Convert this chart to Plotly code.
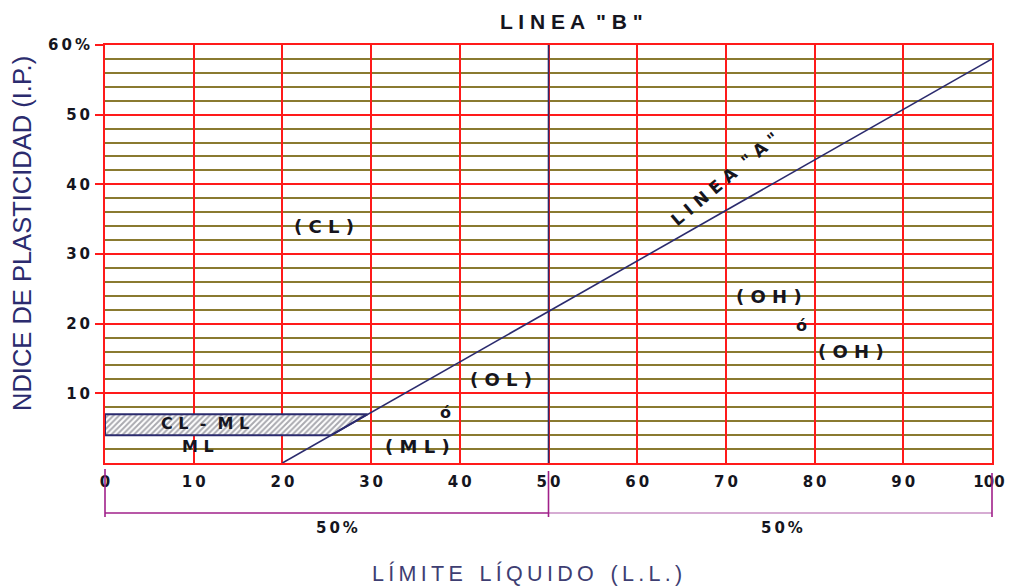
import plotly.graph_objects as go

# ---- data ----
x_ticks = [0, 10, 20, 30, 40, 50, 60, 70, 80, 90, 100]
x_ticktext = ["0", "1\u20090", "2\u20090", "3\u20090", "4\u20090", "5\u20090",
              "6\u20090", "7\u20090", "8\u20090", "9\u20090", "100\u2009\u2009"]
y_ticks = [10, 20, 30, 40, 50, 60]
y_ticktext = ["1\u20090", "2\u20090", "3\u20090", "4\u20090", "5\u20090", "6\u20090\u2009%"]

lineA_ll = [20, 100]
lineA_ip = [0, 58]
lineB_ll = [50, 50]
lineB_ip = [0, 60]

clml_ll = [0, 0, 29.6, 25.5, 0]
clml_ip = [4, 7, 7, 4, 4]

zone_labels = ["( C L )", "( O H )", "ó", "( O H )", "( O L )", "ó", "( M L )", "C L  -  M L", "M L"]
zone_ll = [24.7, 74.9, 78.5, 84.1, 44.6, 38.4, 35.2, 11.3, 10.5]
zone_ip = [33.9, 23.9, 19.7, 16.0, 12.0, 7.3, 2.4, 5.6, 2.3]
zone_size = [18, 18, 16, 18, 18, 16, 18, 16, 16]

span_labels = ["5\u20090\u2009%", "5\u20090\u2009%"]
span_start = [0, 50]
span_end = [50, 100]
span_label_pos = [26.1, 76.3]

NAVY = "#2b2b6e"
RED = "#ff1a1a"
OLIVE = "#8a7a30"
TXT = "#151520"
BFONT = "DejaVu Sans"
FONT = "Liberation Sans"

# page body has an 8px margin: figure is shifted by OFF
OFF = 8
WIN_W, WIN_H = 1013, 588
W, H = WIN_W - OFF, WIN_H - OFF
# plot area in window pixels
X0, X1, Y0, Y1 = 105, 992, 45, 463
ML, MR, MT, MB = X0 - OFF, W - (X1 - OFF), Y0 - OFF, H - (Y1 - OFF)
PW, PH = X1 - X0, Y1 - Y0


def py(pix):
    """paper y from a window pixel row"""
    return (Y1 - pix) / PH


def px(pix):
    """paper x from a window pixel column"""
    return (pix - X0) / PW


fig = go.Figure()

# hatched CL-ML zone
fig.add_trace(go.Scatter(
    x=clml_ll, y=clml_ip, mode="lines", fill="toself",
    line=dict(color=NAVY, width=2),
    fillcolor="rgba(255,255,255,0)",
    fillpattern=dict(shape="/", fgcolor="#555562", bgcolor="#ffffff", size=4, solidity=0.5),
    hoverinfo="skip", showlegend=False))

# line A
fig.add_trace(go.Scatter(x=lineA_ll, y=lineA_ip, mode="lines",
                         line=dict(color=NAVY, width=1.6), showlegend=False))
# line B
fig.add_trace(go.Scatter(x=lineB_ll, y=lineB_ip, mode="lines",
                         line=dict(color=NAVY, width=1.6), showlegend=False))

# zone labels
for t, xv, yv, s in zip(zone_labels, zone_ll, zone_ip, zone_size):
    fig.add_annotation(x=xv, y=yv, xref="x", yref="y", text=t, showarrow=False,
                       xanchor="center", yanchor="middle",
                       font=dict(family=BFONT, size=s, color=TXT, weight="bold"))

# LINEA "A" label
fig.add_annotation(x=69.9, y=40.7, xref="x", yref="y", text='L I N E A  " A "', showarrow=False,
                   xanchor="center", yanchor="middle",
                   textangle=-40, font=dict(family=BFONT, size=17, color=TXT, weight="bold"))

# title
fig.add_annotation(x=px(571), y=py(22), xref="paper", yref="paper", text='L I N E A  " B "',
                   showarrow=False, xanchor="center", yanchor="middle",
                   font=dict(family=FONT, size=21, color=TXT, weight="bold"))

# y title
fig.add_annotation(x=px(22), y=py(234), xref="paper", yref="paper",
                   text="NDICE DE PLASTICIDAD (I.P.)", textangle=-90, showarrow=False,
                   xanchor="center", yanchor="middle",
                   font=dict(family=FONT, size=25.5, color=NAVY))

# x title
fig.add_annotation(x=px(527), y=py(573), xref="paper", yref="paper",
                   text="L\u2009Í\u2009M\u2009I\u2009T\u2009E\u2002 L\u2009Í\u2009Q\u2009U\u2009I\u2009D\u2009O\u2002 (\u2009L\u2009.\u2009L\u2009.\u2009)",
                   showarrow=False, xanchor="center", yanchor="middle",
                   font=dict(family=FONT, size=21.5, color="#3e3e72"))

# dimension lines below axis
span_colors = ["#a0208a", "#c890c4"]
for s, e, lab, lp, col in zip(span_start, span_end, span_labels, span_label_pos, span_colors):
    fig.add_shape(type="line", xref="paper", yref="paper", x0=s / 100, x1=e / 100,
                  y0=py(513), y1=py(513), line=dict(color=col, width=1.6))
    fig.add_annotation(x=lp / 100, y=py(528), xref="paper", yref="paper", text=lab,
                       showarrow=False, xanchor="center", yanchor="middle",
                       font=dict(family=BFONT, size=15, color=TXT, weight="bold"))
for xv, top in zip([0, 50, 100], [469, 471, 473]):
    fig.add_shape(type="line", xref="paper", yref="paper", x0=xv / 100, x1=xv / 100,
                  y0=py(top), y1=py(517), line=dict(color="#a0208a", width=1.6))
fig.add_trace(go.Scatter(x=[0, 50, 50, 100], y=[-7.18] * 4, mode="markers",
                         marker=dict(symbol="x-thin", size=6, line=dict(color="#a0208a", width=1.8)),
                         cliponaxis=False, showlegend=False, hoverinfo="skip"))

fig.update_xaxes(range=[0, 100], tickvals=x_ticks, ticktext=x_ticktext,
                 showgrid=True, gridcolor=RED, gridwidth=2,
                 showline=True, linecolor=RED, linewidth=2, mirror=True,
                 zeroline=False, ticks="", ticklabelstandoff=4, automargin=False,
                 tickfont=dict(family=BFONT, size=15, color=TXT, weight="bold"))
fig.update_yaxes(range=[0, 60], tickvals=y_ticks, ticktext=y_ticktext,
                 showgrid=True, gridcolor=RED, gridwidth=2,
                 minor=dict(dtick=2, tick0=0, showgrid=True, gridcolor=OLIVE, gridwidth=2),
                 showline=True, linecolor=RED, linewidth=2, mirror=True,
                 zeroline=False, ticks="outside", ticklen=8, tickcolor=RED, tickwidth=2,
                 ticklabelstandoff=2, automargin=False,
                 tickfont=dict(family=BFONT, size=15, color=TXT, weight="bold"))

fig.update_layout(width=W, height=H, margin=dict(l=ML, r=MR, t=MT, b=MB, autoexpand=False),
                  plot_bgcolor="white", paper_bgcolor="white", showlegend=False)

fig.write_html("out.html")
